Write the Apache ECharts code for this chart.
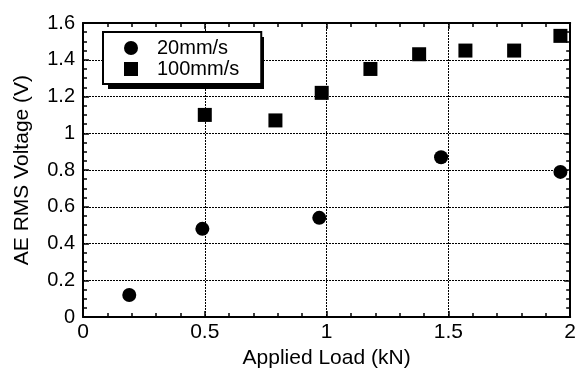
<!DOCTYPE html>
<html>
<head>
<meta charset="utf-8">
<script src="https://cdn.jsdelivr.net/npm/echarts@6/dist/echarts.min.js"></script>
<style>
html,body{margin:0;padding:0;background:#fff;}
#c{width:579px;height:374px;}
</style>
</head>
<body>
<div id="c"></div>
<script>
// Data
var seriesNames = ['20mm/s', '100mm/s'];
var load20 = [0.19, 0.49, 0.97, 1.47, 1.96];
var volt20 = [0.12, 0.48, 0.54, 0.87, 0.79];
var load100 = [0.50, 0.79, 0.98, 1.18, 1.38, 1.57, 1.77, 1.96];
var volt100 = [1.10, 1.07, 1.22, 1.35, 1.43, 1.45, 1.45, 1.53];
var xTicks = [0, 0.5, 1, 1.5, 2];
var yTicks = [0, 0.2, 0.4, 0.6, 0.8, 1, 1.2, 1.4, 1.6];
var xTitle = 'Applied Load (kN)';
var yTitle = 'AE RMS Voltage (V)';

function pairs(xs, ys){ return xs.map(function(x,i){ return [x, ys[i]]; }); }

var font = 'Liberation Sans, Arial, Helvetica, sans-serif';
var gridLine = {show:true, lineStyle:{color:'#000', width:1, type:[2,1]}};
var axLine = {show:true, onZero:false, lineStyle:{color:'#000', width:2}};

function baseAxis(ticks, minorSplit){
  return {
    type:'value',
    min: ticks[0], max: ticks[ticks.length-1],
    interval: ticks[1]-ticks[0],
    axisLine: axLine,
    axisTick:{show:true, inside:true, length:6, lineStyle:{color:'#000', width:1.5}},
    minorTick:{show:true, splitNumber:minorSplit, length:4, lineStyle:{color:'#000', width:1.5}},
    minorSplitLine:{show:false}
  };
}

var x0 = Object.assign(baseAxis(xTicks,5), {
  position:'bottom',
  splitLine: gridLine,
  axisLabel:{show:true, color:'#000', fontSize:21, fontFamily:font, margin:5},
  name: xTitle, nameLocation:'middle', nameGap:25,
  nameTextStyle:{color:'#000', fontSize:21, fontFamily:font}
});
var x1 = Object.assign(baseAxis(xTicks,5), {
  position:'top', splitLine:{show:false}, axisLabel:{show:false}
});
var y0 = Object.assign(baseAxis(yTicks,4), {
  position:'left',
  splitLine: gridLine,
  axisLabel:{show:true, color:'#000', fontSize:20, fontFamily:font, margin:8},
  name: yTitle, nameLocation:'middle', nameGap:50,
  nameTextStyle:{color:'#000', fontSize:21, fontFamily:font}
});
var y1 = Object.assign(baseAxis(yTicks,4), {
  position:'right', splitLine:{show:false}, axisLabel:{show:false}
});

var chart = echarts.init(document.getElementById('c'), null, {renderer:'canvas'});
chart.setOption({
  backgroundColor:'#fff',
  animation:false,
  grid:{left:83, right:8, top:23, bottom:49, containLabel:false},
  xAxis:[x0, x1],
  yAxis:[y0, y1],
  graphic:[{
    type:'rect', z:3, silent:true,
    shape:{x:108, y:37, width:156, height:52},
    style:{fill:'#000'}
  }],
  legend:{
    z:5,
    left:103, top:32, orient:'vertical',
    data:[{name:seriesNames[0], icon:'circle'},{name:seriesNames[1], icon:'rect'}],
    itemWidth:14, itemHeight:14, itemGap:1,
    padding:[6,22,5,21],
    backgroundColor:'#fff', borderColor:'#000', borderWidth:2,
    itemStyle:{opacity:1},
    textStyle:{color:'#000', fontSize:20, fontFamily:font, lineHeight:20, padding:[0,0,0,14]}
  },
  series:[
    {name:seriesNames[0], type:'scatter', xAxisIndex:0, yAxisIndex:0,
     symbol:'circle', symbolSize:14, itemStyle:{color:'#000', opacity:1},
     data: pairs(load20, volt20)},
    {name:seriesNames[1], type:'scatter', xAxisIndex:0, yAxisIndex:0,
     symbol:'rect', symbolSize:14, itemStyle:{color:'#000', opacity:1},
     data: pairs(load100, volt100)}
  ]
});
</script>
</body>
</html>
